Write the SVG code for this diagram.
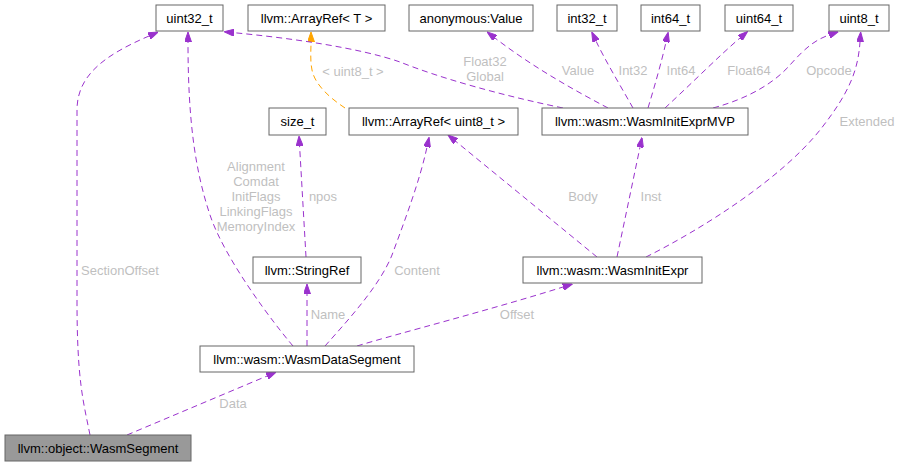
<svg xmlns="http://www.w3.org/2000/svg" width="900" height="466" viewBox="0 0 900 466">
<style>
  .node rect { fill: #ffffff; stroke: #666666; stroke-width: 1; }
  .node.sel rect { fill: #999999; }
  .node text { font-family: "Liberation Sans", Arial, sans-serif; font-size: 13px; fill: #000000; text-anchor: middle; }
  .edge { fill: none; stroke: #9a32cd; stroke-width: 1; stroke-dasharray: 6,4; marker-end: url(#ah); }
  .edge.tpl { stroke: #ffa500; marker-end: url(#aho); }
  .lbl { font-family: "Liberation Sans", Arial, sans-serif; font-size: 13px; fill: #bfbfbf; text-anchor: middle; }
</style>
<defs>
  <marker id="ah" viewBox="0 0 10 7" refX="0" refY="3.5" markerWidth="10" markerHeight="7" markerUnits="userSpaceOnUse" orient="auto">
    <path d="M0,0 L10,3.5 L0,7 z" fill="#9a32cd" stroke="#9a32cd" stroke-width="1"/>
  </marker>
  <marker id="aho" viewBox="0 0 10 7" refX="0" refY="3.5" markerWidth="10" markerHeight="7" markerUnits="userSpaceOnUse" orient="auto">
    <path d="M0,0 L10,3.5 L0,7 z" fill="#ffa500" stroke="#ffa500" stroke-width="1"/>
  </marker>
</defs>
<rect x="0" y="0" width="900" height="466" fill="#ffffff"/>

<g id="edges">
  <path class="edge" d="M90,435 C83,400 77,380 77,300 L77,110 C77,75 105,55 149,36"/>
  <path class="edge" d="M293,346 C275,325 225,260 210,215 C195,170 188,120 188,42"/>
  <path class="edge" d="M307,346 L307,294"/>
  <path class="edge" d="M325,346 C350,318 380,285 392,255 C405,220 420,180 427,147"/>
  <path class="edge" d="M357,346 C400,333 490,310 563,287"/>
  <path class="edge" d="M127,435 L267,376"/>
  <path class="edge" d="M306,257 L299.6,146"/>
  <path class="edge tpl" d="M345,108 C330,98 315,85 312,70 C310,60 311,52 311,42"/>
  <path class="edge" d="M597,257 L455.7,141.3"/>
  <path class="edge" d="M617,257 L640,147.2"/>
  <path class="edge" d="M646,257 C700,230 780,180 820,130 C850,92 858,70 860,42"/>
  <path class="edge" d="M563,108 C500,95 440,78 400,62 C360,48 290,38 234,32.7"/>
  <path class="edge" d="M608,108 C570,88 530,65 495,38"/>
  <path class="edge" d="M633,108 C620,85 605,60 596,41"/>
  <path class="edge" d="M648,108 C655,85 662,60 666,42"/>
  <path class="edge" d="M665,108 C690,85 720,55 740,38"/>
  <path class="edge" d="M713,108 C750,98 775,82 790,65 C805,48 815,40 829,35"/>
</g>

<g id="edge-labels">
  <text class="lbl" x="120" y="275">SectionOffset</text>
  <text class="lbl" x="256" y="171">Alignment</text>
  <text class="lbl" x="256" y="186">Comdat</text>
  <text class="lbl" x="256" y="201">InitFlags</text>
  <text class="lbl" x="256" y="216">LinkingFlags</text>
  <text class="lbl" x="256" y="231">MemoryIndex</text>
  <text class="lbl" x="328" y="319">Name</text>
  <text class="lbl" x="417" y="275">Content</text>
  <text class="lbl" x="517" y="319">Offset</text>
  <text class="lbl" x="233" y="408">Data</text>
  <text class="lbl" x="323" y="201">npos</text>
  <text class="lbl" x="353" y="76">&lt; uint8_t &gt;</text>
  <text class="lbl" x="583" y="201">Body</text>
  <text class="lbl" x="651" y="201">Inst</text>
  <text class="lbl" x="867" y="126">Extended</text>
  <text class="lbl" x="485" y="66">Float32</text>
  <text class="lbl" x="485" y="81">Global</text>
  <text class="lbl" x="578" y="75">Value</text>
  <text class="lbl" x="633" y="75">Int32</text>
  <text class="lbl" x="681" y="75">Int64</text>
  <text class="lbl" x="749" y="75">Float64</text>
  <text class="lbl" x="829" y="75">Opcode</text>
</g>

<g id="node-uint32_t" class="node"><rect x="156" y="5" width="67" height="26"/><text x="189.5" y="22.5">uint32_t</text></g>
<g id="node-arrayref-T" class="node"><rect x="248" y="5" width="137" height="26"/><text x="316.5" y="22.5">llvm::ArrayRef&lt; T &gt;</text></g>
<g id="node-anon-value" class="node"><rect x="409" y="5" width="124" height="26"/><text x="471" y="22.5">anonymous:Value</text></g>
<g id="node-int32_t" class="node"><rect x="557" y="5" width="60" height="26"/><text x="587" y="22.5">int32_t</text></g>
<g id="node-int64_t" class="node"><rect x="641" y="5" width="59" height="26"/><text x="670.5" y="22.5">int64_t</text></g>
<g id="node-uint64_t" class="node"><rect x="725" y="5" width="68" height="26"/><text x="759" y="22.5">uint64_t</text></g>
<g id="node-uint8_t" class="node"><rect x="829" y="5" width="60" height="26"/><text x="859" y="22.5">uint8_t</text></g>
<g id="node-size_t" class="node"><rect x="269" y="108" width="57" height="27"/><text x="297.5" y="126">size_t</text></g>
<g id="node-arrayref-uint8" class="node"><rect x="349" y="108" width="169" height="27"/><text x="433.5" y="126">llvm::ArrayRef&lt; uint8_t &gt;</text></g>
<g id="node-initexprmvp" class="node"><rect x="542" y="108" width="206" height="27"/><text x="645" y="126">llvm::wasm::WasmInitExprMVP</text></g>
<g id="node-stringref" class="node"><rect x="253" y="257" width="108" height="26"/><text x="307" y="274.5">llvm::StringRef</text></g>
<g id="node-initexpr" class="node"><rect x="523" y="257" width="179" height="26"/><text x="612.5" y="274.5">llvm::wasm::WasmInitExpr</text></g>
<g id="node-datasegment" class="node"><rect x="200" y="346" width="214" height="26"/><text x="307" y="363.5">llvm::wasm::WasmDataSegment</text></g>
<g id="node-wasmsegment" class="node sel"><rect x="5" y="435" width="186" height="26"/><text x="98" y="452.5">llvm::object::WasmSegment</text></g>
</svg>
